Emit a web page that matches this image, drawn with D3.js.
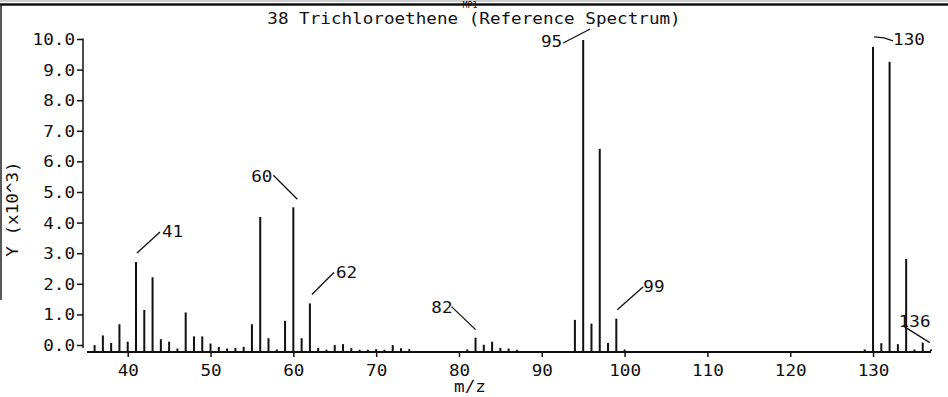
<!DOCTYPE html>
<html><head><meta charset="utf-8">
<script src="https://cdn.jsdelivr.net/npm/d3@7"></script>
<style>
html,body{margin:0;padding:0;background:#fff;overflow:hidden}
text{font-family:"DejaVu Sans Mono",monospace;fill:#111}
</style></head>
<body>
<svg id="c" width="948" height="397"></svg>
<script>
// ---- data ----
const title = "38 Trichloroethene (Reference Spectrum)";
const header = "MP1";
const xLabel = "m/z";
const yLabel = "Y (x10^3)";
const mz = [36,37,38,39,40,41,42,43,44,45,46,47,48,49,50,51,52,53,54,55,56,57,58,59,60,61,62,63,64,65,66,67,68,69,70,71,72,73,74,
            81,82,83,84,85,86,87,94,95,96,97,98,99,100,129,130,131,132,133,134,135,136,137];
const abundance = [0.19,0.5,0.26,0.86,0.30,2.86,1.32,2.37,0.38,0.30,0.08,1.24,0.47,0.47,0.24,0.13,0.08,0.10,0.13,0.86,4.31,0.41,0.05,0.97,4.62,0.41,1.53,0.10,0.04,0.19,0.22,0.09,0.04,0.04,0.06,0.04,0.19,0.09,0.06,
            0.05,0.43,0.20,0.30,0.10,0.08,0.04,1.0,10.0,0.88,6.5,0.26,1.04,0.05,0.05,9.78,0.25,9.3,0.22,2.96,0.05,0.27,0.05];
const xTicks = [40,50,60,70,80,90,100,110,120,130];
const yTicks = [0,1,2,3,4,5,6,7,8,9,10];
const labelled = [41,60,62,82,95,99,130,136];

// ---- drawing ----
const svg = d3.select("#c");
const CW = 10.6; // char advance of the plotter font
function txt(sel, s, cw){ cw = cw||CW; sel.text(s).attr("textLength", s.length*cw).attr("lengthAdjust","spacingAndGlyphs"); return sel; }

const x = d3.scaleLinear().domain([34.6,137]).range([83,931]);
const y = d3.scaleLinear().domain([0,10]).range([351,40]);       // bars
const yAx = d3.scaleLinear().domain([0,10]).range([345,39]);     // printed axis

// frame
svg.append("line").attr("x1",0).attr("x2",948).attr("y1",4.5).attr("y2",4.5).attr("stroke","#111").attr("stroke-width",2.5);
svg.append("line").attr("x1",0).attr("x2",948).attr("y1",1).attr("y2",1).attr("stroke","#999").attr("stroke-width",1);
svg.append("line").attr("x1",1).attr("x2",1).attr("y1",4).attr("y2",300).attr("stroke","#222").attr("stroke-width",1.5);
txt(svg.append("text").attr("x",470 - header.length*5/2).attr("y",8).style("font-size","8px"), header, 5);

// title
const tt = svg.append("text").attr("y",24).style("font-size","15px");
txt(tt, title).attr("x",474 - title.length*CW/2);

// y axis
const ya = svg.append("g").attr("transform","translate(83,0)")
  .call(d3.axisLeft(yAx).tickValues(yTicks).tickSize(6).tickPadding(0).tickFormat(d3.format(".1f")));
ya.select(".domain").attr("stroke","#111").attr("stroke-width",1.5).attr("d","M0,38.5V348");
ya.selectAll(".tick line").attr("stroke","#111").attr("stroke-width",1.5);
ya.selectAll(".tick text").each(function(d){
  const s = d3.format(".1f")(d);
  d3.select(this).attr("x",-8).attr("dy","0.36em").style("font-size","15px").attr("font-family",null)
    .attr("textLength", s.length*CW).attr("lengthAdjust","spacingAndGlyphs");
});

// x axis
const xa = svg.append("g").attr("transform","translate(0,352)")
  .call(d3.axisBottom(x).tickValues(xTicks).tickSize(5).tickPadding(8).tickFormat(d3.format("d")));
xa.select(".domain").attr("stroke","#111").attr("stroke-width",2).attr("d","M87,0H931");
xa.selectAll(".tick line").attr("stroke","#111").attr("stroke-width",1.5);
xa.selectAll(".tick text").each(function(d){
  const s = String(d);
  d3.select(this).style("font-size","15px").attr("font-family",null).attr("dy","0.71em")
    .attr("textLength", s.length*CW).attr("lengthAdjust","spacingAndGlyphs");
});

// axis titles
txt(svg.append("text").attr("x",470 - xLabel.length*CW/2).attr("y",392).style("font-size","15px"), xLabel);
txt(svg.append("text").attr("transform","translate(18,"+(209+yLabel.length*CW/2)+") rotate(-90)").style("font-size","15px"), yLabel);

// bars
const data = mz.map((m,i)=>({m, v:abundance[i]}));
svg.append("g").selectAll("rect").data(data).join("rect")
  .attr("x", d=>x(d.m)-1).attr("width",2)
  .attr("y", d=>y(d.v)).attr("height", d=>y(0)-y(d.v))
  .attr("fill","#111");

// peak annotations (leader offsets relative to the bar top)
const leader = {
  41:{p:[[1,-9],[24,-30]], t:[26,-25], a:"start"},
  60:{p:[[4,-8],[-20,-32]], t:[-21,-25], a:"end"},
  62:{p:[[2,-9],[24,-31]], t:[26,-25], a:"start"},
  82:{p:[[0,-8],[-24,-31]], t:[-23,-25], a:"end"},
  95:{p:[[7,-11],[-20,3]], t:[-21,7], a:"end"},
  99:{p:[[1,-9],[27,-32]], t:[27,-27], a:"start"},
  130:{p:[[1,-10],[11,-9],[20,-6]], t:[20,-2], a:"start"},
  136:{p:[[-20,-17],[7,0]], t:[-24,-16], a:"start"}
};
const ann = svg.append("g");
labelled.forEach(m=>{
  const d = data.find(e=>e.m===m), L = leader[m];
  const bx = x(d.m), by = y(d.v);
  ann.append("path").attr("d", d3.line()(L.p.map(p=>[bx+p[0], by+p[1]])))
    .attr("fill","none").attr("stroke","#111").attr("stroke-width",1.3);
  const s = String(m), w = s.length*CW;
  const tx = L.a==="end" ? bx+L.t[0]-w : bx+L.t[0];
  txt(ann.append("text").attr("x",tx).attr("y",by+L.t[1]).style("font-size","15px"), s);
});
</script>
</body></html>
